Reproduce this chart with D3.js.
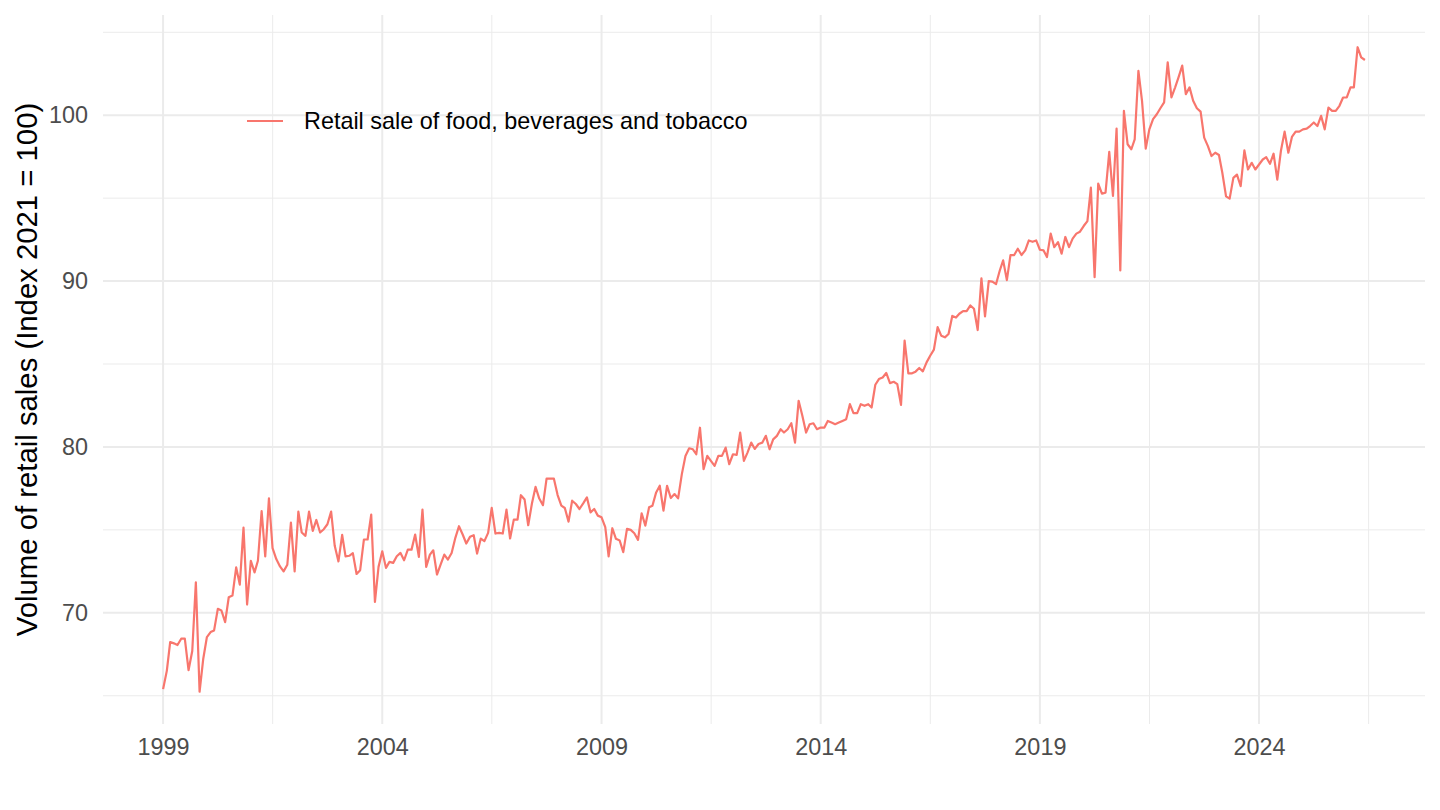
<!DOCTYPE html>
<html>
<head>
<meta charset="utf-8">
<script src="https://cdn.jsdelivr.net/npm/d3@7"></script>
<style>
  body { margin: 0; background: #ffffff; }
  svg { display: block; font-family: "Liberation Sans", Arial, Helvetica, sans-serif; }
</style>
</head>
<body>
<div id="chart"></div>
<script>
const seriesName = "Retail sale of food, beverages and tobacco";
const yAxisTitle = "Volume of retail sales (Index 2021 = 100)";
const firstMonth = "1999-01-01";

// monthly index values, one row per year (Jan..Dec)
const salesIndex = [
  65.4, 66.5, 68.24, 68.16, 68.06, 68.44, 68.44, 66.54, 67.7, 71.84, 65.24, 67.2,      // 1999
  68.54, 68.84, 68.94, 70.24, 70.14, 69.44, 70.94, 71.04, 72.74, 71.7, 75.14, 70.5,   // 2000
  73.14, 72.44, 73.14, 76.14, 73.4, 76.9, 73.9, 73.24, 72.8, 72.5, 72.9, 75.44,       // 2001
  72.5, 76.1, 74.84, 74.64, 76.1, 74.94, 75.6, 74.84, 75.04, 75.34, 76.1, 74.04,      // 2002
  73.1, 74.7, 73.4, 73.44, 73.6, 72.34, 72.57, 74.42, 74.42, 75.92, 70.66, 72.77,     // 2003
  73.71, 72.71, 73.07, 73.01, 73.41, 73.61, 73.17, 73.81, 73.81, 74.72, 73.37, 76.22, // 2004
  72.77, 73.51, 73.77, 72.31, 72.91, 73.51, 73.21, 73.61, 74.52, 75.22, 74.72, 74.18, // 2005
  74.58, 74.68, 73.57, 74.48, 74.32, 74.82, 76.33, 74.78, 74.82, 74.78, 76.22, 74.48, // 2006
  75.62, 75.62, 77.09, 76.83, 75.28, 76.59, 77.59, 76.89, 76.49, 78.09, 78.09, 78.09, // 2007
  77.1, 76.46, 76.32, 75.5, 76.76, 76.56, 76.26, 76.6, 76.96, 76.06, 76.26, 75.86,    // 2008
  75.76, 75.16, 73.4, 75.1, 74.46, 74.36, 73.66, 75.06, 75.0, 74.8, 74.4, 76.0,       // 2009
  75.26, 76.36, 76.46, 77.26, 77.66, 76.16, 77.66, 76.92, 77.16, 76.9, 78.36, 79.46,  // 2010
  79.92, 79.86, 79.56, 81.16, 78.66, 79.46, 79.16, 78.86, 79.46, 79.46, 79.96, 78.96, // 2011
  79.56, 79.52, 80.86, 79.16, 79.66, 80.26, 79.88, 80.18, 80.26, 80.67, 79.86, 80.46, // 2012
  80.67, 81.07, 80.87, 81.07, 81.43, 80.26, 82.78, 81.88, 80.87, 81.37, 81.43, 81.07, // 2013
  81.17, 81.17, 81.57, 81.47, 81.37, 81.47, 81.57, 81.67, 82.58, 82.04, 82.04, 82.58, // 2014
  82.48, 82.58, 82.38, 83.75, 84.09, 84.19, 84.46, 83.85, 83.93, 83.79, 82.54, 86.41, // 2015
  84.44, 84.44, 84.54, 84.76, 84.56, 85.1, 85.5, 85.87, 87.22, 86.71, 86.61, 86.81,   // 2016
  87.9, 87.8, 88.03, 88.19, 88.19, 88.53, 88.33, 87.05, 90.17, 87.87, 90.0, 89.97,    // 2017
  89.82, 90.64, 91.25, 90.06, 91.57, 91.57, 91.95, 91.57, 91.85, 92.45, 92.37, 92.45, // 2018
  91.89, 91.85, 91.45, 92.86, 92.05, 92.35, 91.65, 92.66, 92.05, 92.56, 92.86, 92.98, // 2019
  93.32, 93.62, 95.63, 90.24, 95.88, 95.27, 95.33, 97.79, 95.13, 99.2, 90.64, 100.26, // 2020
  98.25, 97.95, 98.55, 102.68, 100.87, 97.99, 99.15, 99.76, 100.06, 100.42, 100.77, 103.19, // 2021
  101.07, 101.68, 102.28, 102.99, 101.27, 101.68, 100.87, 100.42, 100.22, 98.65, 98.14, 97.54, // 2022
  97.74, 97.6, 96.53, 95.11, 94.97, 96.22, 96.42, 95.72, 97.88, 96.73, 97.13, 96.73,  // 2023
  97.03, 97.33, 97.47, 97.07, 97.68, 96.12, 97.84, 99.01, 97.74, 98.69, 99.01, 99.01, // 2024
  99.15, 99.19, 99.35, 99.56, 99.35, 99.96, 99.15, 100.46, 100.26, 100.26, 100.57, 101.07, // 2025
  101.07, 101.68, 101.68, 104.1, 103.49, 103.33                                       // 2026
];

const xTickYears = [1999, 2004, 2009, 2014, 2019, 2024];
const yMajorTicks = [70, 80, 90, 100];
const yMinorTicks = [65, 75, 85, 95, 105];

class LineChartD3 {
    margin = {top: 15, right: 15, bottom: 86, left: 103};
    lineColor = "#F8766D";
    gridColor = "#EBEBEB";
    tickFontSize = "23.4px";
    titleFontSize = "29.3px";
    expand = 0.05;   // ggplot style 5% padding of the data range
    svg;
    panel;
    xScale;
    yScale;

    constructor(el){
        this.el = el;
    }

    create = function (config) {
        this.size = {width: config.size.width, height: config.size.height};
        this.width = this.size.width - this.margin.left - this.margin.right;
        this.height = this.size.height - this.margin.top - this.margin.bottom;

        this.svg = d3.select(this.el).append("svg")
            .attr("width", this.size.width)
            .attr("height", this.size.height);
        this.svg.append("rect")
            .attr("width", this.size.width)
            .attr("height", this.size.height)
            .attr("fill", "#ffffff");

        this.panel = this.svg.append("g")
            .attr("class", "panelG")
            .attr("transform", "translate(" + this.margin.left + "," + this.margin.top + ")");
    }

    padded(extent){
        const pad = (extent[1] - extent[0]) * this.expand;
        return [extent[0] - pad, extent[1] + pad];
    }

    render = function (visData) {
        const xExt = d3.extent(visData, d => d.date).map(d => +d);
        const yExt = d3.extent(visData, d => d.value);
        this.xScale = d3.scaleUtc().domain(this.padded(xExt).map(t => new Date(t))).range([0, this.width]);
        this.yScale = d3.scaleLinear().domain(this.padded(yExt)).range([this.height, 0]);

        const xMajor = xTickYears.map(y => new Date(Date.UTC(y, 0, 1)));
        // minor breaks sit halfway between the majors (and one step past each end)
        const step = xMajor[1] - xMajor[0];
        const xMinor = [+xMajor[0] - step / 2].concat(xMajor.map(d => +d + step / 2))
            .map(t => new Date(t))
            .filter(d => this.xScale(d) >= 0 && this.xScale(d) <= this.width);

        const grid = this.panel.append("g").attr("class", "gridG");
        grid.selectAll(".yMinor").data(yMinorTicks.filter(v => this.yScale(v) >= 0)).join("line")
            .attr("x1", 0).attr("x2", this.width)
            .attr("y1", d => this.yScale(d)).attr("y2", d => this.yScale(d))
            .attr("stroke", this.gridColor).attr("stroke-width", 1);
        grid.selectAll(".xMinor").data(xMinor).join("line")
            .attr("y1", 0).attr("y2", this.height)
            .attr("x1", d => this.xScale(d)).attr("x2", d => this.xScale(d))
            .attr("stroke", this.gridColor).attr("stroke-width", 1);
        grid.selectAll(".yMajor").data(yMajorTicks).join("line")
            .attr("x1", 0).attr("x2", this.width)
            .attr("y1", d => this.yScale(d)).attr("y2", d => this.yScale(d))
            .attr("stroke", this.gridColor).attr("stroke-width", 2);
        grid.selectAll(".xMajor").data(xMajor).join("line")
            .attr("y1", 0).attr("y2", this.height)
            .attr("x1", d => this.xScale(d)).attr("x2", d => this.xScale(d))
            .attr("stroke", this.gridColor).attr("stroke-width", 2);

        // axes without domain line / ticks, theme_minimal look
        const bottomAxis = d3.axisBottom(this.xScale).tickValues(xMajor)
            .tickFormat(d3.utcFormat("%Y")).tickSize(0);
        const leftAxis = d3.axisLeft(this.yScale).tickValues(yMajorTicks).tickSize(0).tickPadding(15);

        const xAxisG = this.panel.append("g").attr("class", "xAxisG")
            .attr("transform", "translate(0," + this.height + ")")
            .call(bottomAxis);
        const yAxisG = this.panel.append("g").attr("class", "yAxisG").call(leftAxis);
        [xAxisG, yAxisG].forEach(g => {
            g.select(".domain").remove();
            g.selectAll("text")
                .attr("fill", "#4D4D4D")
                .style("font-size", this.tickFontSize)
                .style("font-family", "'Liberation Sans', Arial, sans-serif");
        });
        // baseline of the year labels
        xAxisG.selectAll("text").attr("y", 31).attr("dy", 0);

        this.svg.append("text")
            .attr("class", "yAxisLabel")
            .attr("text-anchor", "middle")
            .attr("transform", "translate(37," + (this.margin.top + this.height / 2) + ") rotate(-90)")
            .attr("fill", "#000000")
            .style("font-size", this.titleFontSize)
            .text(yAxisTitle);

        const line = d3.line()
            .x(d => this.xScale(d.date))
            .y(d => this.yScale(d.value));
        this.panel.append("path")
            .datum(visData)
            .attr("class", "seriesLine")
            .attr("fill", "none")
            .attr("stroke", this.lineColor)
            .attr("stroke-width", 2.2)
            .attr("stroke-linejoin", "round")
            .attr("d", line);

        // legend placed inside the panel, top left
        const legendG = this.svg.append("g").attr("class", "legendG")
            .attr("transform", "translate(247,121)");
        legendG.append("line")
            .attr("x1", 0).attr("x2", 36).attr("y1", 0).attr("y2", 0)
            .attr("stroke", this.lineColor).attr("stroke-width", 2.2);
        legendG.append("text")
            .attr("x", 57).attr("y", 0).attr("dy", "0.35em")
            .attr("fill", "#000000")
            .style("font-size", this.tickFontSize)
            .text(seriesName);
    }
}

const start = d3.utcParse("%Y-%m-%d")(firstMonth);
const visData = salesIndex.map((value, i) => ({date: d3.utcMonth.offset(start, i), value: value}));

const chart = new LineChartD3(document.getElementById("chart"));
chart.create({size: {width: 1440, height: 810}});
chart.render(visData);
</script>
</body>
</html>
